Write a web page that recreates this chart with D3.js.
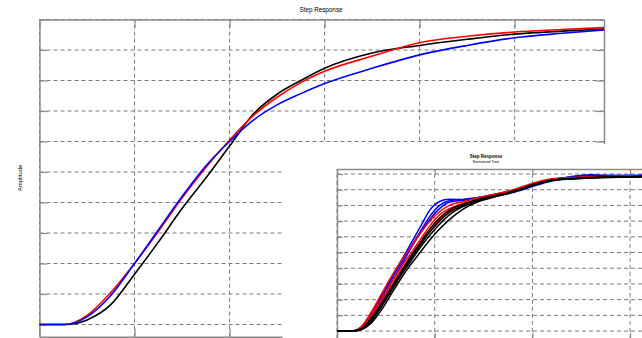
<!DOCTYPE html>
<html>
<head>
<meta charset="utf-8">
<script src="https://cdn.jsdelivr.net/npm/d3@7/dist/d3.min.js"></script>
<style>
  html, body { margin: 0; padding: 0; background: #fff; }
  svg { display: block; }
  text { font-family: "Liberation Sans", Arial, sans-serif; fill: #000; }
</style>
</head>
<body>
<svg id="chart" width="642" height="338"></svg>
<script>
// ---- Main step response: time samples and amplitudes of the three models ----
const mainTime  = [0, 0.27, 0.5, 0.75, 1.0, 1.25, 1.5, 1.75, 2.0, 2.25, 2.5, 2.75, 3.0, 3.5, 4.0, 4.5, 5.0, 5.5, 5.94];
const mainBlack = [0, 0, 0.015, 0.065, 0.165, 0.27, 0.38, 0.48, 0.585, 0.69, 0.755, 0.80, 0.84, 0.89, 0.915, 0.935, 0.952, 0.962, 0.969];
const mainRed   = [0, 0, 0.03, 0.105, 0.20, 0.305, 0.415, 0.515, 0.605, 0.685, 0.745, 0.793, 0.83, 0.88, 0.924, 0.945, 0.959, 0.967, 0.974];
const mainBlue  = [0, 0, 0.025, 0.095, 0.20, 0.31, 0.42, 0.52, 0.60, 0.67, 0.72, 0.757, 0.79, 0.84, 0.884, 0.915, 0.94, 0.955, 0.966];
const mainXTicks = [0, 1, 2, 3, 4, 5];
const mainYTicks = [0, 0.1, 0.2, 0.3, 0.4, 0.5, 0.6, 0.7, 0.8, 0.9, 1.0];

// ---- Inset: bundle of measured step responses ----
const insetTime = [0, 0.15, 0.25, 0.35, 0.45, 0.55, 0.65, 0.75, 0.85, 0.95, 1.05, 1.15, 1.3, 1.45, 1.6, 1.75, 1.9, 2.05, 2.2, 2.4, 2.6, 2.8, 3.0, 3.2];
const insetBlue1  = [0, 0, 0.025, 0.11, 0.22, 0.33, 0.44, 0.55, 0.66, 0.77, 0.825, 0.84, 0.835, 0.85, 0.87, 0.89, 0.91, 0.935, 0.96, 0.985, 0.995, 0.99, 0.99, 0.992];
const insetBlue2  = [0, 0, 0.02, 0.10, 0.21, 0.32, 0.43, 0.53, 0.63, 0.73, 0.80, 0.83, 0.84, 0.85, 0.86, 0.875, 0.90, 0.93, 0.955, 0.975, 0.985, 0.99, 0.985, 0.99];
const insetBlue3  = [0, 0, 0.015, 0.09, 0.19, 0.30, 0.41, 0.52, 0.62, 0.71, 0.78, 0.82, 0.835, 0.845, 0.865, 0.885, 0.91, 0.94, 0.965, 0.98, 0.99, 0.99, 0.99, 0.995];
const insetRed1   = [0, 0, 0.03, 0.12, 0.23, 0.34, 0.44, 0.53, 0.62, 0.70, 0.76, 0.80, 0.825, 0.85, 0.87, 0.89, 0.92, 0.95, 0.97, 0.978, 0.982, 0.985, 0.988, 0.99];
const insetRed2   = [0, 0, 0.02, 0.10, 0.20, 0.30, 0.40, 0.49, 0.58, 0.67, 0.74, 0.78, 0.815, 0.84, 0.86, 0.885, 0.915, 0.945, 0.965, 0.975, 0.98, 0.984, 0.986, 0.99];
const insetRed3   = [0, 0, 0.015, 0.08, 0.18, 0.28, 0.38, 0.47, 0.56, 0.64, 0.71, 0.76, 0.805, 0.835, 0.86, 0.88, 0.91, 0.94, 0.962, 0.972, 0.978, 0.982, 0.985, 0.988];
const insetBlack1 = [0, 0, 0.015, 0.08, 0.17, 0.27, 0.37, 0.47, 0.56, 0.65, 0.72, 0.77, 0.81, 0.84, 0.86, 0.88, 0.91, 0.94, 0.96, 0.972, 0.978, 0.98, 0.983, 0.987];
const insetBlack2 = [0, 0, 0.01, 0.06, 0.15, 0.25, 0.35, 0.44, 0.53, 0.61, 0.68, 0.74, 0.795, 0.83, 0.855, 0.878, 0.905, 0.938, 0.96, 0.97, 0.976, 0.98, 0.982, 0.985];
const insetBlack3 = [0, 0, 0.01, 0.05, 0.13, 0.23, 0.33, 0.42, 0.50, 0.58, 0.65, 0.71, 0.78, 0.825, 0.852, 0.875, 0.905, 0.935, 0.958, 0.968, 0.975, 0.978, 0.98, 0.983];
const insetBlack4 = [0, 0, 0.012, 0.07, 0.16, 0.26, 0.36, 0.455, 0.545, 0.63, 0.70, 0.755, 0.80, 0.835, 0.858, 0.88, 0.908, 0.94, 0.96, 0.97, 0.977, 0.98, 0.983, 0.986];
const insetXTicks = [0, 1, 2, 3];
const insetYTicks = [0, 0.1, 0.2, 0.3, 0.4, 0.5, 0.6, 0.7, 0.8, 0.9, 1.0];

const svg = d3.select("#chart");
const gridColor = "#7a7a7a";
const boxColor = "#8c8c8c";

// Draws a boxed MATLAB-style axes with dashed grid and inward ticks.
function drawAxes(g, x, y, xTicks, yTicks, tickLen) {
  const [x0, x1] = x.range();
  const [y0, y1] = y.range(); // y0 bottom, y1 top
  const grid = g.append("g");
  grid.selectAll("line.vg").data(xTicks).join("line")
    .attr("x1", d => x(d)).attr("x2", d => x(d))
    .attr("y1", y0).attr("y2", y1)
    .attr("stroke", gridColor).attr("stroke-width", 1)
    .attr("stroke-dasharray", "4,3");
  grid.selectAll("line.hg").data(yTicks).join("line")
    .attr("x1", x0).attr("x2", x1)
    .attr("y1", d => y(d)).attr("y2", d => y(d))
    .attr("stroke", gridColor).attr("stroke-width", 1)
    .attr("stroke-dasharray", "4,3");

  const bottom = d3.axisBottom(x).tickValues(xTicks).tickSizeInner(-tickLen).tickSizeOuter(0).tickFormat("");
  const top = d3.axisTop(x).tickValues(xTicks).tickSizeInner(-tickLen).tickSizeOuter(0).tickFormat("");
  const left = d3.axisLeft(y).tickValues(yTicks).tickSizeInner(-tickLen).tickSizeOuter(0).tickFormat("");
  const right = d3.axisRight(y).tickValues(yTicks).tickSizeInner(-tickLen).tickSizeOuter(0).tickFormat("");
  [[bottom, `translate(0,${y0})`], [top, `translate(0,${y1})`],
   [left, `translate(${x0},0)`], [right, `translate(${x1},0)`]].forEach(([ax, tr]) => {
    const a = g.append("g").attr("transform", tr).call(ax);
    a.selectAll("path.domain").attr("stroke", boxColor).attr("stroke-width", 1.5);
    a.selectAll(".tick line").attr("stroke", boxColor).attr("stroke-width", 1.2);
  });
}

// ---------------- Main axes ----------------
const mx = d3.scaleLinear().domain([0, 5.94]).range([39.5, 604]);
const my = d3.scaleLinear().domain([-0.04, 1.0]).range([336.7, 19.5]);
const mainG = svg.append("g");
drawAxes(mainG, mx, my, mainXTicks, mainYTicks, 8);

const mainLine = d3.line().x((d, i) => mx(mainTime[i])).y(d => my(d)).curve(d3.curveMonotoneX);
[[mainBlack, "#000000"], [mainRed, "#ff0000"], [mainBlue, "#0000ff"]].forEach(([vals, col]) => {
  mainG.append("path").datum(vals).attr("d", mainLine)
    .attr("fill", "none").attr("stroke", col).attr("stroke-width", 1.6);
});

svg.append("text").attr("x", 321).attr("y", 12).attr("text-anchor", "middle")
  .attr("font-size", 6.3).text("Step Response");
svg.append("text").attr("transform", "translate(22,178) rotate(-90)")
  .attr("text-anchor", "middle").attr("font-size", 6).text("Amplitude");

// ---------------- Inset figure ----------------
svg.append("rect").attr("x", 282.5).attr("y", 144).attr("width", 360).attr("height", 194).attr("fill", "#fff");

const ix = d3.scaleLinear().domain([0, 3.2]).range([337, 649.6]);
const iy = d3.scaleLinear().domain([-0.05, 1.032]).range([338.9, 169]);
const insetG = svg.append("g");
drawAxes(insetG, ix, iy, insetXTicks, insetYTicks, 6);

const insetLine = d3.line().x((d, i) => ix(insetTime[i])).y(d => iy(d)).curve(d3.curveMonotoneX);
[[insetBlue1, "#0000ff"], [insetBlue2, "#0000ff"], [insetBlue3, "#0000ff"],
 [insetRed1, "#ff0000"], [insetRed2, "#ff0000"], [insetRed3, "#ff0000"],
 [insetBlack1, "#000000"], [insetBlack2, "#000000"], [insetBlack3, "#000000"], [insetBlack4, "#000000"]]
  .forEach(([vals, col]) => {
    insetG.append("path").datum(vals).attr("d", insetLine)
      .attr("fill", "none").attr("stroke", col).attr("stroke-width", 1.5);
  });

svg.append("text").attr("x", 486).attr("y", 158).attr("text-anchor", "middle")
  .attr("font-size", 4.5).attr("font-weight", "bold").text("Step Response");
svg.append("text").attr("x", 486).attr("y", 163).attr("text-anchor", "middle")
  .attr("font-size", 3.5).attr("fill", "#444").text("Normalized Time");
</script>
</body>
</html>
